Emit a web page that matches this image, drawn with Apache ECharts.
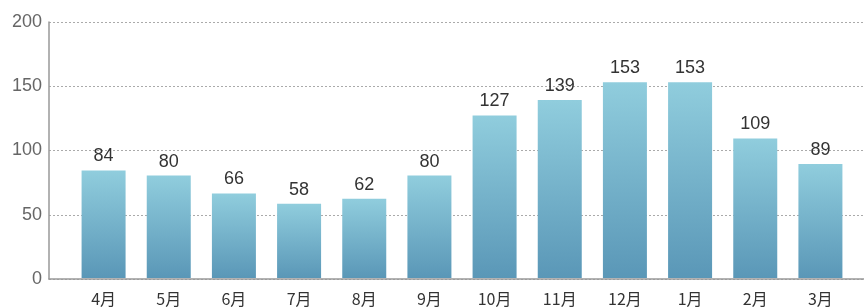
<!DOCTYPE html>
<html>
<head>
<meta charset="utf-8">
<script src="https://cdn.jsdelivr.net/npm/echarts@6/dist/echarts.min.js"></script>
<style>
  html, body { margin: 0; padding: 0; background: #fff; }
  #ec { width: 864px; height: 307px; }
</style>
</head>
<body>
<div id="ec"></div>
<script>
var months = ['4月', '5月', '6月', '7月', '8月', '9月', '10月', '11月', '12月', '1月', '2月', '3月'];
var values = [84, 80, 66, 58, 62, 80, 127, 139, 153, 153, 109, 89];
var yTicks = [0, 50, 100, 150, 200];

var myEchart = echarts.init(document.getElementById('ec'));
// 两个 grid：一个画坐标轴和网格线，一个画柱子
myEchart.setOption({
  animation: false,
  grid: [
    { left: 49, right: 0, top: 22, bottom: 28 },
    { left: 71, width: 782, top: 22, bottom: 28 }
  ],
  xAxis: [
    {
      gridIndex: 0,
      type: 'category',
      data: months,
      axisLine: { lineStyle: { color: '#999', width: 1.5 } },
      axisTick: { show: false },
      axisLabel: { show: false }
    },
    {
      gridIndex: 1,
      type: 'category',
      data: months,
      axisLine: { show: false },
      axisTick: { show: false },
      axisLabel: {
        color: '#333',
        fontSize: 16,
        margin: 13,
        fontFamily: 'Noto Sans CJK SC'
      }
    }
  ],
  yAxis: [
    {
      gridIndex: 0,
      type: 'value',
      min: yTicks[0],
      max: yTicks[yTicks.length - 1],
      interval: 50,
      axisLine: { show: true, lineStyle: { color: '#999', width: 1.5 } },
      axisTick: { show: false },
      axisLabel: {
        color: '#666',
        fontSize: 18,
        margin: 7,
        fontFamily: 'Liberation Sans'
      },
      splitLine: { lineStyle: { color: '#aaa', type: [2, 2] } }
    },
    {
      gridIndex: 1,
      type: 'value',
      min: yTicks[0],
      max: yTicks[yTicks.length - 1],
      interval: 50,
      show: false
    }
  ],
  series: [
    {
      type: 'bar',
      xAxisIndex: 1,
      yAxisIndex: 1,
      data: values,
      barWidth: 44,
      itemStyle: {
        color: new echarts.graphic.LinearGradient(0, 0, 0, 1, [
          { offset: 0, color: '#90cddd' },
          { offset: 1, color: '#5a97b7' }
        ])
      },
      label: {
        show: true,
        position: 'top',
        distance: 5,
        color: '#333',
        fontSize: 18,
        fontFamily: 'Liberation Sans'
      }
    }
  ]
});
</script>
</body>
</html>
